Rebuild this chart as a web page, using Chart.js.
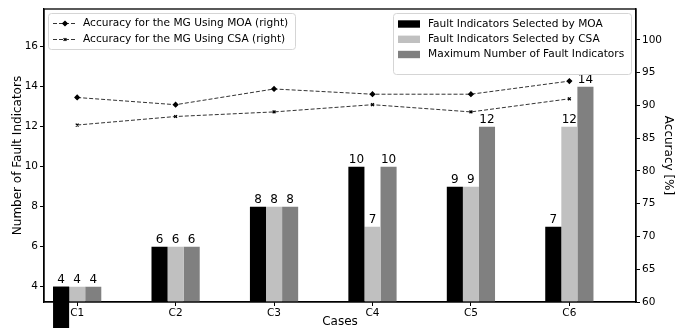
<!DOCTYPE html>
<html><head><meta charset="utf-8">
<script src="https://cdn.jsdelivr.net/npm/chart.js@4.4.0/dist/chart.umd.min.js"></script>
<style>html,body{margin:0;padding:0;background:#fff;}#wrap{width:683px;height:328px;position:relative;}</style>
</head><body><div id="wrap"><canvas id="c" width="683" height="328"></canvas></div>
<script>
const categories = ['C1','C2','C3','C4','C5','C6'];
const moaIndicators = [4,6,8,10,9,7];
const csaIndicators = [4,6,8,7,9,12];
const maxIndicators = [4,6,8,10,12,14];
const moaAccuracy = [91.2,90.1,92.5,91.7,91.7,93.7];
const csaAccuracy = [87.0,88.3,89.0,90.1,89.0,91.0];
const leftTicks = [4,6,8,10,12,14,16];
const rightTicks = [60,65,70,75,80,85,90,95,100];
const unclippedMoaBars = ['C1'];

const FONT = '"DejaVu Sans", Verdana, sans-serif';
const pts = arr => arr.map((v,i)=>({x:i,y:v}));

const barSets = [
  {label:'Fault Indicators Selected by MOA', data:pts(moaIndicators), backgroundColor:'#000000'},
  {label:'Fault Indicators Selected by CSA', data:pts(csaIndicators), backgroundColor:'#c0c0c0'},
  {label:'Maximum Number of Fault Indicators', data:pts(maxIndicators), backgroundColor:'#808080'}
].map(d=>Object.assign(d,{type:'bar',yAxisID:'y',order:2,categoryPercentage:0.49,barPercentage:1,borderWidth:0}));

const lineSets = [
  {label:'Accuracy for the MG Using MOA (right)', data:pts(moaAccuracy), pointStyle:'rectRot', pointRadius:2.2},
  {label:'Accuracy for the MG Using CSA (right)', data:pts(csaAccuracy), pointStyle:'crossRot', pointRadius:2}
].map(d=>Object.assign(d,{type:'line',yAxisID:'y1',order:0,borderColor:'#333',borderWidth:1,borderDash:[4,2],
  pointBackgroundColor:'#000',pointBorderColor:'#000',pointBorderWidth:1.3,fill:false,tension:0}));

function drawLegendBox(ctx,x,y,w,h){
  ctx.save();
  ctx.beginPath();
  if (ctx.roundRect) ctx.roundRect(x+0.5,y+0.5,w,h,3); else ctx.rect(x+0.5,y+0.5,w,h);
  ctx.fillStyle='rgba(255,255,255,0.85)'; ctx.fill();
  ctx.strokeStyle='#d5d5d5'; ctx.lineWidth=1; ctx.stroke();
  ctx.restore();
}

const annotate = {
  id:'annotate',
  afterDatasetsDraw(chart){
    const ctx=chart.ctx, ys=chart.scales.y;
    ctx.save();
    // reference shows the C1 MOA bar drawn without clipping
    const m0=chart.getDatasetMeta(0);
    m0.data.forEach((el,i)=>{
      if(unclippedMoaBars.includes(categories[i])){
        const y0=ys.getPixelForValue(0);
        ctx.fillStyle='#000';
        ctx.fillRect(el.x-el.width/2, el.y, el.width, y0-el.y);
      }
    });
    ctx.font='12px '+FONT; ctx.fillStyle='#000'; ctx.textAlign='center'; ctx.textBaseline='bottom';
    [0,1,2].forEach(di=>{
      chart.getDatasetMeta(di).data.forEach((el,i)=>{
        ctx.fillText(String(chart.data.datasets[di].data[i].y), el.x, el.y-1);
      });
    });
    ctx.restore();
  },
  afterDraw(chart){
    const ctx=chart.ctx, a=chart.chartArea;
    ctx.save();
    ctx.strokeStyle='#000'; ctx.lineWidth=1.3;
    ctx.strokeRect(a.left,a.top,a.right-a.left,a.bottom-a.top);
    ctx.font='10.6px '+FONT; ctx.textBaseline='middle'; ctx.textAlign='left';
    // left legend (lines)
    drawLegendBox(ctx,48,13,247,36);
    const lrows=[23.5,39.5];
    [3,4].forEach((di,k)=>{
      const ds=chart.data.datasets[di], y=lrows[k];
      ctx.save(); ctx.strokeStyle='#333'; ctx.lineWidth=1; ctx.setLineDash([4,2]);
      ctx.beginPath(); ctx.moveTo(53,y); ctx.lineTo(77,y); ctx.stroke(); ctx.restore();
      ctx.save(); ctx.fillStyle='#000'; ctx.strokeStyle='#000'; ctx.lineWidth=1.3;
      Chart.helpers.drawPoint(ctx,{pointStyle:ds.pointStyle,radius:ds.pointRadius,rotation:0,borderWidth:1.3},65,y);
      ctx.restore();
      ctx.fillStyle='#000'; ctx.fillText(ds.label,83,y);
    });
    // right legend (bars)
    drawLegendBox(ctx,393,13,238,61);
    const rrows=[24,39.3,54.5];
    [0,1,2].forEach((di,k)=>{
      const ds=chart.data.datasets[di], y=rrows[k];
      ctx.fillStyle=ds.backgroundColor; ctx.fillRect(398,y-3.7,22,7.4);
      ctx.fillStyle='#000'; ctx.fillText(ds.label,428,y);
    });
    ctx.restore();
  }
};

const tickFont={family:FONT,size:10.5};
const titleFont={family:FONT,size:12,lineHeight:1};
const gridOpts={display:true,drawOnChartArea:false,drawTicks:true,tickLength:4,color:'#000',offset:false};

new Chart(document.getElementById('c'),{
  type:'bar',
  data:{datasets:[...barSets,...lineSets]},
  plugins:[annotate],
  options:{
    responsive:false,animation:false,devicePixelRatio:1,
    layout:{padding:{top:9,left:0,right:0,bottom:0}},
    plugins:{legend:{display:false},tooltip:{enabled:false}},
    scales:{
      x:{type:'linear',position:'bottom',min:-0.337,max:5.677,offset:false,
        afterBuildTicks:s=>{s.ticks=categories.map((c,i)=>({value:i}));},
        afterFit:s=>{s.height=26;},
        ticks:{callback:v=>categories[v],font:tickFont,color:'#000',padding:1,maxRotation:0,autoSkip:false},
        grid:gridOpts,border:{display:true,color:'#000',width:1.3},
        title:{display:true,text:'Cases',font:titleFont,color:'#000',padding:{top:0,bottom:0}}},
      y:{type:'linear',position:'left',min:3.235,max:17.885,
        afterBuildTicks:s=>{s.ticks=leftTicks.map(v=>({value:v}));},
        afterFit:s=>{s.width=44;},
        ticks:{font:tickFont,color:'#000',padding:2},
        grid:gridOpts,border:{display:true,color:'#000',width:1.3},
        title:{display:true,text:'Number of Fault Indicators',font:titleFont,color:'#000',padding:{top:12,bottom:0}}},
      y1:{type:'linear',position:'right',min:60,max:104.7,
        afterBuildTicks:s=>{s.ticks=rightTicks.map(v=>({value:v}));},
        afterFit:s=>{s.width=47;},
        ticks:{font:tickFont,color:'#000',padding:2},
        grid:gridOpts,border:{display:true,color:'#000',width:1.3},
        title:{display:true,text:'Accuracy [%]',font:titleFont,color:'#000',padding:{top:9,bottom:0}}}
    }
  }
});
</script></body></html>
